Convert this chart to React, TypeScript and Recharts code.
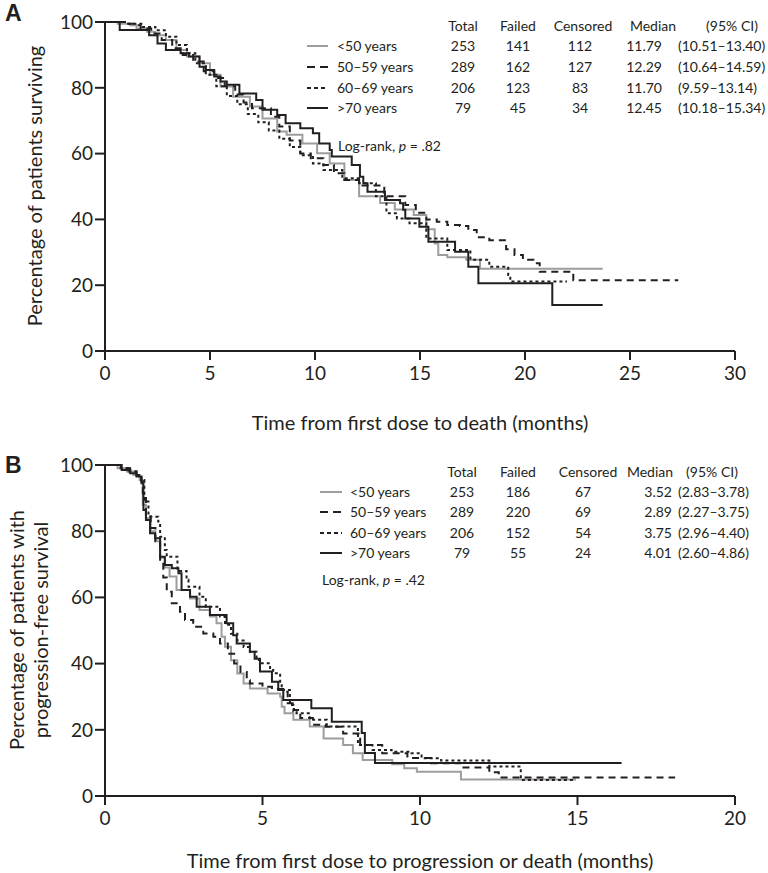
import React from "react";
import { LineChart, Line, XAxis, YAxis } from "recharts";

type Pt = [number, number];

const groups = ["<50 years", "50–59 years", "60–69 years", ">70 years"];
const pctTicks = [0, 20, 40, 60, 80, 100];
const osTicks = [0, 5, 10, 15, 20, 25, 30];
const pfsTicks = [0, 5, 10, 15, 20];

// Overall survival table (panel A)
const osTotal = [253, 289, 206, 79];
const osFailed = [141, 162, 123, 45];
const osCensored = [112, 127, 83, 34];
const osMedian = ["11.79", "12.29", "11.70", "12.45"];
const osCI = ["(10.51–13.40)", "(10.64–14.59)", "(9.59–13.14)", "(10.18–15.34)"];

// Progression-free survival table (panel B)
const pfsTotal = [253, 289, 206, 79];
const pfsFailed = [186, 220, 152, 55];
const pfsCensored = [67, 69, 54, 24];
const pfsMedian = ["3.52", "2.89", "3.75", "4.01"];
const pfsCI = ["(2.83–3.78)", "(2.27–3.75)", "(2.96–4.40)", "(2.60–4.86)"];

// [months, % surviving]
const osUnder50: Pt[] = [[0,100],[0.6,99.5],[1.2,99],[1.5,98],[2.0,97],[2.4,96],[2.9,94.5],[3.4,91.5],[3.9,89.5],[4.5,87.5],[5.0,84],[5.5,80.4],[6.1,77.3],[6.9,74.3],[7.5,70.7],[8.2,66.7],[8.65,65.7],[9.4,63.1],[10.1,60.1],[10.7,57],[11.4,52],[12.1,47],[13.1,45],[13.8,43],[14.7,41.3],[15.3,37],[15.7,32.7],[15.87,29.2],[16.3,28.5],[17.2,27.7],[17.86,25],[23.7,25]];
const os50s: Pt[] = [[0,100],[0.9,99.5],[1.4,99],[1.7,98],[2.2,96.5],[2.7,94.5],[3.2,92],[3.7,90],[4.2,88],[4.7,85],[5.2,83],[5.7,80.5],[6.2,78],[6.6,75.5],[7.0,73.8],[7.9,71.2],[8.3,68.2],[8.8,64],[9.3,60],[9.8,58.6],[10.4,56.5],[10.9,54],[11.4,52],[12.1,50.3],[13.3,47],[14.3,44.4],[14.8,42],[15.3,40],[15.8,39.3],[16.3,38.3],[16.9,38],[17.3,36.8],[17.7,34.6],[18.3,33.7],[19.1,30.9],[19.5,29.2],[19.9,27.7],[20.4,26.7],[20.7,24.1],[22.3,21.5],[27.3,21.5]];
const os60s: Pt[] = [[0,100],[1.0,99.5],[1.8,98.5],[2.4,97.5],[2.9,95.5],[3.4,93],[3.9,90.5],[4.3,87.5],[4.8,84],[5.3,80.5],[5.8,77.5],[6.3,75],[6.8,72],[7.3,69.5],[7.8,67],[8.3,64.5],[8.8,62],[9.3,59.5],[9.9,57],[10.4,55],[11.3,52.5],[12.1,51],[12.9,47],[13.4,41.9],[13.9,40.3],[14.5,38.8],[15.3,34.2],[16.3,30.7],[17.4,27.7],[18.3,25.6],[19.2,23.1],[19.3,21.1],[22,21.1]];
const osOver70: Pt[] = [[0,100],[0.7,97.6],[2.1,96],[2.5,93.5],[2.9,91.5],[3.6,90.5],[4.0,89.5],[4.5,86.4],[4.8,85.4],[5.2,83.4],[5.5,81.9],[5.8,80.9],[6.4,78.3],[7.2,76.3],[7.5,73.3],[8.2,71.7],[8.6,69.2],[9.3,67.7],[9.9,66.2],[10.2,63.1],[10.7,61.1],[10.8,59.1],[11.75,56.5],[12.14,53],[12.3,51],[12.5,48.4],[13.33,45.9],[14.05,44.9],[14.2,42.9],[14.3,40.3],[14.97,37.8],[15.4,33.2],[16.67,30.2],[17.3,25.6],[17.78,20.6],[21.3,14],[23.7,14]];

// [months, % progression-free]
const pfsUnder50: Pt[] = [[0,100],[0.4,99],[0.7,98],[0.9,97],[1.1,95.5],[1.2,88],[1.3,84],[1.45,80],[1.6,77],[1.75,72],[1.9,69],[2.05,66.3],[2.27,62.2],[2.7,59.7],[3.0,56.2],[3.33,54.2],[3.54,52.2],[3.7,48.1],[3.81,45.1],[4.0,41],[4.2,37],[4.4,34],[4.6,32.5],[5.16,31],[5.56,30],[5.61,27],[5.7,25],[5.98,23],[6.5,21],[6.94,17.4],[7.56,15.4],[7.87,12.9],[8.18,10.9],[9.12,9.6],[9.5,8.4],[9.9,7.3],[11.3,5],[14.95,5]];
const pfs50s: Pt[] = [[0,100],[0.5,99],[0.8,98],[1.0,96.5],[1.15,95],[1.2,90],[1.3,85],[1.45,81],[1.6,77],[1.75,71],[1.85,66],[1.96,61.7],[2.12,58.2],[2.38,55.7],[2.54,53.2],[2.8,51.1],[3.12,49.1],[3.44,48.1],[3.65,46.1],[3.9,43],[4.1,40],[4.3,37.5],[4.5,35],[4.6,34],[5.0,33],[5.3,32.3],[5.66,31.5],[5.8,28],[6.0,26],[6.2,23.6],[6.6,21.5],[7.0,20.9],[7.56,18.9],[8.1,15.4],[8.8,12.9],[9.6,11.5],[10.35,9.9],[11.3,8.6],[12.2,7.2],[12.5,5.6],[18.1,5.6]];
const pfs60s: Pt[] = [[0,100],[0.45,99],[0.75,98],[1.0,97],[1.15,95.5],[1.25,89],[1.38,84.4],[1.69,82.9],[1.75,78.3],[1.9,74.3],[1.96,72.3],[2.3,68],[2.59,65.3],[2.65,63.2],[3.0,60.2],[3.2,57.2],[3.65,54.2],[3.81,51.7],[4.0,49],[4.2,47],[4.4,45],[4.6,43.6],[4.81,41.1],[4.92,40.1],[5.24,38.1],[5.34,37.1],[5.56,34],[5.61,32],[5.87,27.5],[5.98,25.5],[6.08,25],[6.5,23],[7.04,21],[8.03,15.4],[8.49,13.9],[9.1,13.4],[9.73,12.9],[10.05,11.4],[10.67,10.7],[12.2,8.9],[13.2,4.8],[14.95,4.8]];
const pfsOver70: Pt[] = [[0,100],[0.53,98.5],[0.8,97.5],[1.0,96.5],[1.16,94.5],[1.22,86.4],[1.3,83.4],[1.43,79.4],[1.59,77.9],[1.75,72.3],[1.9,69.8],[2.12,68.8],[2.33,67.3],[2.43,62.2],[2.7,60.2],[2.91,57.2],[3.33,54.7],[3.86,52.2],[4.07,48.6],[4.18,46.1],[4.6,43.6],[4.75,41.5],[4.92,37.6],[5.3,34.5],[5.5,32],[5.66,29],[6.55,26.5],[7.2,22.4],[8.15,19],[8.25,13],[8.57,10],[16.4,10]];

const INK = "#231f20";
const FONT = "Lato, 'Open Sans', sans-serif";

const lineStyles = [
  { stroke: "#9d9d9d", dash: undefined, legendDash: undefined },
  { stroke: INK, dash: "7 5", legendDash: "8 5" },
  { stroke: INK, dash: "3 3", legendDash: "4 3" },
  { stroke: INK, dash: undefined, legendDash: undefined },
];

const toRows = (pts: Pt[]) => pts.map(([t, s]) => ({ t, s }));

function T({ x, y, align = "left", size = 14, children, style }: any) {
  const tx = align === "center" ? "-50%" : align === "right" ? "-100%" : "0";
  return (
    <div
      style={{
        position: "absolute",
        left: x,
        top: y,
        transform: `translate(${tx},-50%)`,
        fontSize: size,
        lineHeight: 1,
        whiteSpace: "nowrap",
        ...style,
      }}
    >
      {children}
    </div>
  );
}

// plot box: x 105..735, height plotH starting at plotTop (chart-local)
function KMChart({ top, plotTop, plotH, curves, xMax, xTicks }: any) {
  return (
    <div style={{ position: "absolute", left: 0, top }}>
      <LineChart width={768} height={400} margin={{ top: plotTop, right: 33, bottom: 400 - plotTop - plotH - 30, left: 45 }}>
        <XAxis
          type="number"
          dataKey="t"
          domain={[0, xMax]}
          ticks={xTicks}
          interval={0}
          height={30}
          tickSize={9}
          tickMargin={7}
          axisLine={{ stroke: INK, strokeWidth: 2 }}
          tickLine={{ stroke: INK, strokeWidth: 2 }}
          tick={{ fontSize: 19, fill: INK, fontFamily: FONT }}
        />
        <YAxis
          type="number"
          domain={[0, 100]}
          ticks={pctTicks}
          interval={0}
          width={60}
          tickSize={10}
          axisLine={{ stroke: INK, strokeWidth: 2 }}
          tickLine={{ stroke: INK, strokeWidth: 2 }}
          tick={{ fontSize: 19, fill: INK, fontFamily: FONT }}
        />
        {curves.map((c: Pt[], i: number) => (
          <Line
            key={i}
            data={toRows(c)}
            dataKey="s"
            type="stepAfter"
            stroke={lineStyles[i].stroke}
            strokeDasharray={lineStyles[i].dash}
            strokeWidth={2}
            dot={false}
            activeDot={false}
            isAnimationActive={false}
          />
        ))}
      </LineChart>
    </div>
  );
}

function StatsTable({ cfg, total, failed, censored, median, ci, p }: any) {
  const rowY = (i: number) => cfg.row0 + i * cfg.rowGap;
  return (
    <>
      <T x={cfg.totalX} y={cfg.head} align="center">Total</T>
      <T x={cfg.failedX} y={cfg.head} align="center">Failed</T>
      <T x={cfg.censHeadX} y={cfg.head} align="center">Censored</T>
      <T x={cfg.medHeadX} y={cfg.head} align="center">Median</T>
      <T x={cfg.ciHeadX} y={cfg.head} align="center">(95% CI)</T>
      {groups.map((g, i) => (
        <React.Fragment key={g}>
          <svg style={{ position: "absolute", left: cfg.symX, top: rowY(i) - 2 }} width={cfg.symW} height={4}>
            <line x1={0} y1={2} x2={cfg.symW} y2={2} stroke={lineStyles[i].stroke} strokeWidth={2} strokeDasharray={lineStyles[i].legendDash} />
          </svg>
          <T x={cfg.labelX} y={rowY(i)}>{g}</T>
          <T x={cfg.totalX} y={rowY(i)} align="center">{total[i]}</T>
          <T x={cfg.failedX} y={rowY(i)} align="center">{failed[i]}</T>
          <T x={cfg.censX} y={rowY(i)} align="center">{censored[i]}</T>
          <T x={cfg.medRight} y={rowY(i)} align="right">{median[i]}</T>
          <T x={cfg.ciLeft} y={rowY(i)}>{ci[i]}</T>
        </React.Fragment>
      ))}
      <T x={cfg.lrX} y={cfg.lrY}>
        Log-rank, <i>p</i> = {p}
      </T>
    </>
  );
}

const cfgA = { head: 26, row0: 46, rowGap: 20.8, symX: 307, symW: 21, labelX: 337, totalX: 463, failedX: 518, censX: 580, censHeadX: 583, medRight: 662, medHeadX: 653, ciLeft: 678, ciHeadX: 732, lrX: 338, lrY: 146 };
const cfgB = { head: 472, row0: 492, rowGap: 20.3, symX: 320, symW: 22, labelX: 350, totalX: 462, failedX: 518, censX: 583, censHeadX: 588, medRight: 672, medHeadX: 650, ciLeft: 678, ciHeadX: 712, lrX: 322, lrY: 580 };

export default function App() {
  return (
    <div style={{ position: "absolute", left: 0, top: 0, width: 768, height: 873, background: "#fff", fontFamily: FONT, color: INK, overflow: "hidden" }}>
      <KMChart top={0} plotTop={22} plotH={329} curves={[osUnder50, os50s, os60s, osOver70]} xMax={30} xTicks={osTicks} />
      <KMChart top={440} plotTop={25} plotH={331} curves={[pfsUnder50, pfs50s, pfs60s, pfsOver70]} xMax={20} xTicks={pfsTicks} />

      <T x={5} y={13} size={23} style={{ fontWeight: 700, fontFamily: "'Liberation Sans', Arial, sans-serif" }}>A</T>
      <T x={5} y={465} size={23} style={{ fontWeight: 700, fontFamily: "'Liberation Sans', Arial, sans-serif" }}>B</T>

      <StatsTable cfg={cfgA} total={osTotal} failed={osFailed} censored={osCensored} median={osMedian} ci={osCI} p=".82" />
      <StatsTable cfg={cfgB} total={pfsTotal} failed={pfsFailed} censored={pfsCensored} median={pfsMedian} ci={pfsCI} p=".42" />

      <div style={{ position: "absolute", left: 34, top: 186, transform: "translate(-50%,-50%) rotate(-90deg)", fontSize: 20, whiteSpace: "nowrap", lineHeight: 1 }}>
        Percentage of patients surviving
      </div>
      <div style={{ position: "absolute", left: 28, top: 630, transform: "translate(-50%,-50%) rotate(-90deg)", fontSize: 20, whiteSpace: "nowrap", lineHeight: "24px", textAlign: "center" }}>
        Percentage of patients with
        <br />
        progression-free survival
      </div>

      <T x={420} y={422} align="center" size={20}>Time from first dose to death (months)</T>
      <T x={420} y={860} align="center" size={20}>Time from first dose to progression or death (months)</T>
    </div>
  );
}
